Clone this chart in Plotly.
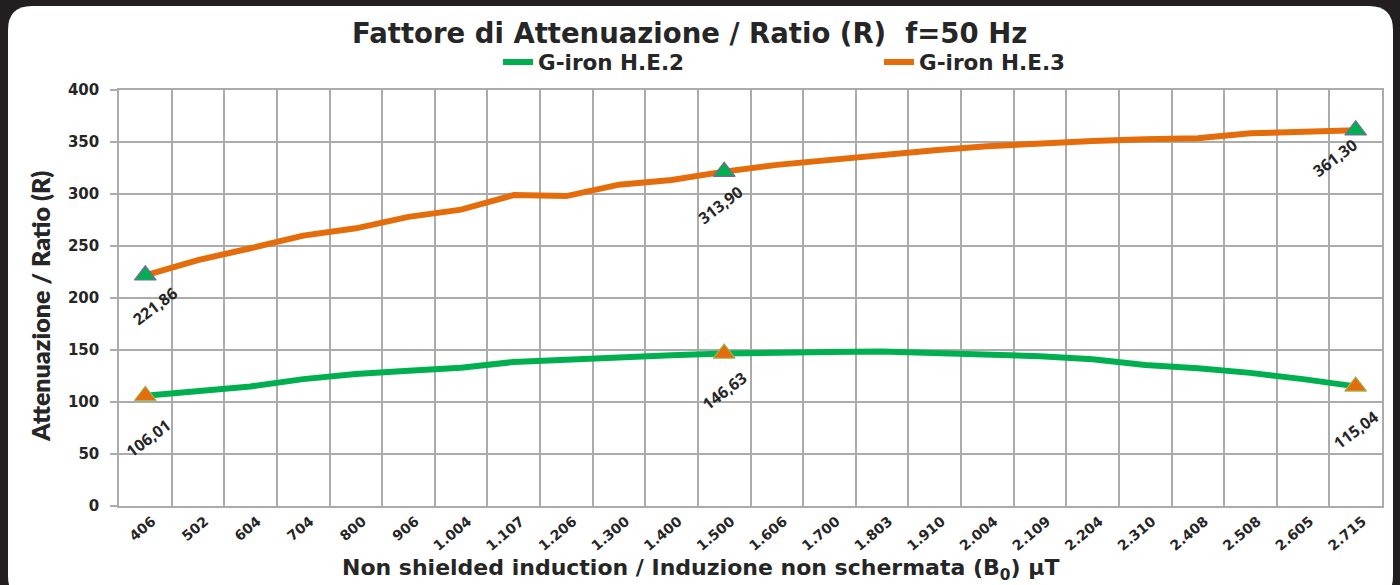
import plotly.graph_objects as go

# ---------------- data ----------------
categories = ["406", "502", "604", "704", "800", "906", "1.004", "1.107", "1.206", "1.300",
              "1.400", "1.500", "1.606", "1.700", "1.803", "1.910", "2.004", "2.109", "2.204",
              "2.310", "2.408", "2.508", "2.605", "2.715"]
he2_values = [106.01, 110.6, 115.0, 122.0, 127.0, 130.0, 133.0, 138.5, 141.0, 143.0,
              145.0, 146.63, 148.0, 148.0, 148.5, 147.0, 145.0, 144.0, 141.0,
              135.5, 132.5, 128.0, 122.0, 115.04]
he3_values = [221.86, 236.5, 247.8, 260.0, 267.0, 278.0, 285.0, 299.0, 298.0, 309.0,
              313.5, 321.5, 328.0, 333.0, 338.0, 342.0, 346.0, 348.7, 351.0,
              352.6, 353.5, 358.3, 360.0, 361.30]
marker_idx = [0, 11, 23]
he2_labels = ["106,01", "146,63", "115,04"]
he3_labels = ["221,86", "313,90", "361,30"]
y_ticks = [0, 50, 100, 150, 200, 250, 300, 350, 400]

GREEN = "#00b050"
ORANGE = "#e46c0a"
TXT = "#262626"
GRID = "#ababab"
WIDE = "DejaVu Sans"

# plot-area geometry (pixels)
W, H = 1400, 585
L, R, T, B = 119, 1382, 90, 506


def pxx(x):
    return (x - L) / (R - L)


def pxy(y):
    return (B - y) / (B - T)


fig = go.Figure()

fig.add_trace(go.Scatter(x=categories, y=he2_values, mode="lines", name="G-iron H.E.2",
                         line=dict(color=GREEN, width=6)))
fig.add_trace(go.Scatter(x=categories, y=he3_values, mode="lines", name="G-iron H.E.3",
                         line=dict(color=ORANGE, width=6)))

fig.add_trace(go.Scatter(x=[categories[i] for i in marker_idx], y=[he2_values[i] for i in marker_idx],
                         mode="markers", showlegend=False, hoverinfo="skip",
                         marker=dict(symbol="triangle-up", size=19, color=ORANGE,
                                     line=dict(color="#9bbb59", width=1.2))))
fig.add_trace(go.Scatter(x=[categories[i] for i in marker_idx], y=[he3_values[i] for i in marker_idx],
                         mode="markers", showlegend=False, hoverinfo="skip",
                         marker=dict(symbol="triangle-up", size=19, color=GREEN,
                                     line=dict(color="#8064a2", width=1.2))))

annotations = []
# data labels (offsets in pixels: dx right, dy down); x given as category index
he2_offsets = [(3, 42), (0, 37), (0, 44)]
he3_offsets = [(10, 31), (-4, 33), (-21, 28)]
for k, i in enumerate(marker_idx):
    for vals, labs, offs in ((he2_values, he2_labels, he2_offsets), (he3_values, he3_labels, he3_offsets)):
        annotations.append(dict(x=i, y=vals[i], xref="x", yref="y", text=labs[k],
                                showarrow=False, textangle=-37, xshift=offs[k][0], yshift=-offs[k][1],
                                font=dict(family="Open Sans", size=16, color=TXT, weight=700)))

# title
annotations.append(dict(x=pxx(689), y=pxy(33), xref="paper", yref="paper",
                        text="<b>Fattore di Attenuazione / Ratio (R)  f=50 Hz</b>", showarrow=False,
                        xanchor="center", yanchor="middle",
                        font=dict(family=WIDE, size=27.5, color=TXT)))
# x axis title
annotations.append(dict(x=pxx(700), y=pxy(569), xref="paper", yref="paper",
                        text="<b>Non shielded induction / Induzione non schermata (B<sub>0</sub>) µT</b>",
                        showarrow=False, xanchor="center", yanchor="middle",
                        font=dict(family=WIDE, size=22, color=TXT)))
# y axis title
annotations.append(dict(x=pxx(40), y=pxy(307), xref="paper", yref="paper",
                        text="Attenuazione / Ratio (R)", showarrow=False, textangle=-90,
                        xanchor="center", yanchor="middle",
                        font=dict(family="Lato", size=25, color=TXT, weight=800)))

# white rounded card over dark background
x0, y0, x1, y1, r = 8, 6, 1393, 600, 24
path = (f"M {pxx(x0 + r)},{pxy(y0)} L {pxx(x1 - r)},{pxy(y0)} "
        f"Q {pxx(x1)},{pxy(y0)} {pxx(x1)},{pxy(y0 + r)} "
        f"L {pxx(x1)},{pxy(y1 - r)} Q {pxx(x1)},{pxy(y1)} {pxx(x1 - r)},{pxy(y1)} "
        f"L {pxx(x0 + r)},{pxy(y1)} Q {pxx(x0)},{pxy(y1)} {pxx(x0)},{pxy(y1 - r)} "
        f"L {pxx(x0)},{pxy(y0 + r)} Q {pxx(x0)},{pxy(y0)} {pxx(x0 + r)},{pxy(y0)} Z")
shapes = [dict(type="path", xref="paper", yref="paper", path=path, fillcolor="white",
               line=dict(width=0), layer="below")]

fig.update_layout(
    width=W, height=H,
    margin=dict(l=L, r=W - R, t=T, b=H - B, pad=0),
    paper_bgcolor="#231f20",
    plot_bgcolor="rgba(0,0,0,0)",
    shapes=shapes,
    annotations=annotations,
    showlegend=True,
    legend=dict(orientation="h", x=pxx(498), y=pxy(62), xanchor="left", yanchor="middle",
                entrywidth=336, entrywidthmode="pixels", bgcolor="rgba(0,0,0,0)",
                font=dict(family=WIDE, size=21.5, color=TXT, weight="bold"),
                itemwidth=30, tracegroupgap=0),
    xaxis=dict(type="category", categoryorder="array", categoryarray=categories,
               tickson="boundaries", showgrid=True, gridcolor=GRID, gridwidth=1.5,
               showline=True, linecolor=GRID, linewidth=1.5, mirror=True,
               ticks="", tickangle=-40, range=[-0.5, len(categories) - 0.5],
               ticklabelshift=7,
               tickfont=dict(family=WIDE, size=14, color=TXT, weight="bold")),
    yaxis=dict(range=[0, 400], tickvals=y_ticks, showgrid=True, gridcolor=GRID, gridwidth=1.5,
               showline=True, linecolor=GRID, linewidth=1.5, mirror=True,
               ticks="outside", ticklen=7, tickcolor=GRID, tickwidth=1.5,
               ticklabelstandoff=8, zeroline=False,
               tickfont=dict(family=WIDE, size=15, color=TXT, weight="bold")),
)

fig.write_html("out.html", config={"displayModeBar": False},
               post_script="document.body.style.margin='0px';document.body.style.background='#231f20';")
